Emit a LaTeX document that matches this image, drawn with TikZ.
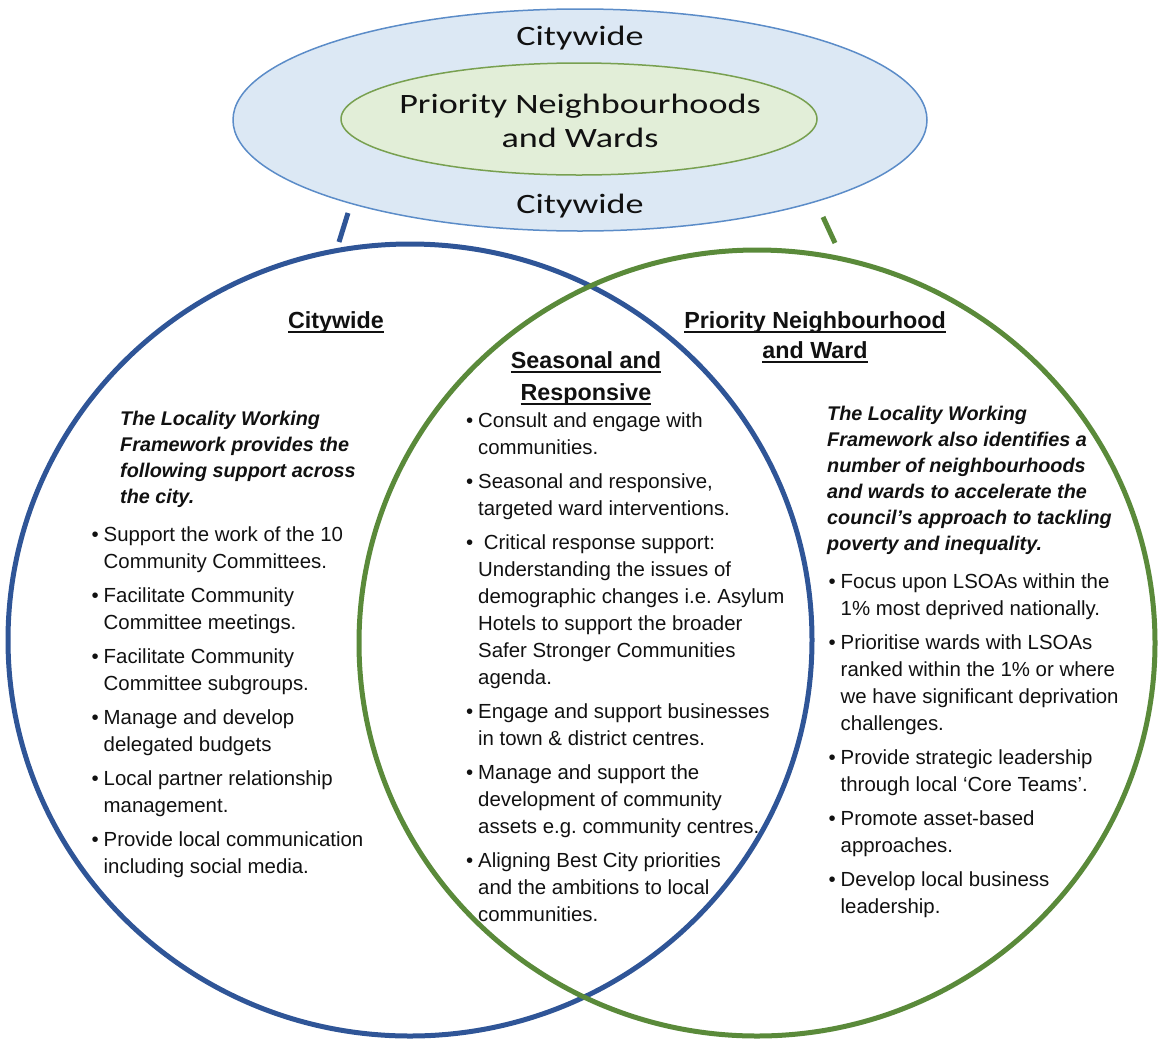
\documentclass[tikz,border=0pt]{standalone}
\usepackage{fontspec}
\setmainfont{Liberation Sans}
\newfontfamily\topfont{Carlito}[FakeStretch=1.29]
\usetikzlibrary{shapes.geometric}
\frenchspacing
\definecolor{cblue}{HTML}{2F5597}
\definecolor{cgreen}{HTML}{5A8A3A}
\definecolor{ofill}{HTML}{DCE8F4}
\definecolor{oline}{HTML}{5B8CC8}
\definecolor{ifill}{HTML}{E2EED8}
\definecolor{iline}{HTML}{78A050}
\definecolor{ink}{HTML}{111111}
\newbox\ulbox
\newcommand\ulx[1]{\setbox\ulbox\hbox{#1}\rlap{\rule[-4.5pt]{\wd\ulbox}{1.4pt}}\box\ulbox}
\newcommand\bl[1]{\hbox{\makebox[12pt][l]{\textbullet}#1}}
\newcommand\cl[1]{\hbox{\hspace*{12pt}#1}}
\newcommand\li[1]{\hbox{#1}}
\newcommand\bgap{\vskip7pt}
\newcommand\chead[2]{\vtop{\baselineskip=#1\halign{\hfil##\hfil\cr #2}}}
\begin{document}
\begin{tikzpicture}[x=1pt,y=-1pt,
  body/.style={inner sep=0pt, anchor=base west, text=ink, font=\fontsize{20.4}{27}\selectfont},
  ital/.style={inner sep=0pt, anchor=base west, text=ink, font=\fontsize{19.8}{26}\selectfont\bfseries\itshape},
  head/.style={inner sep=0pt, anchor=base, text=ink, font=\fontsize{23.3}{30}\selectfont\bfseries},
  toptext/.style={inner sep=0pt, anchor=base, text=ink, font=\topfont\fontsize{28}{34}\selectfont},
  ring/.style={ellipse, line width=5pt, inner sep=0pt},
  tick/.style={line width=5pt}]
\useasboundingbox (0,0) rectangle (1161,1039);
% top ellipses
\node[ellipse, draw=oline, line width=1.5pt, fill=ofill, minimum width=694pt, minimum height=222pt, inner sep=0pt] (outer) at (580,120) {};
\node[ellipse, draw=iline, line width=1.5pt, fill=ifill, minimum width=476pt, minimum height=112pt, inner sep=0pt] (inner) at (579,119) {};
\node[toptext] (cwtop) at (580,45) {Citywide};
\node[toptext] (pnw) at (580,113) {\chead{34pt}{Priority Neighbourhoods\cr and Wards\cr}};
\node[toptext] (cwbot) at (580,213) {Citywide};
% ticks
\coordinate (bt1) at (348,213);
\coordinate (bt2) at (339,242);
\coordinate (gt1) at (823,217);
\coordinate (gt2) at (835,243);
\draw[tick, cblue] (bt1) -- (bt2);
\draw[tick, cgreen] (gt1) -- (gt2);
% circles
\node[ring, draw=cblue, minimum width=804pt, minimum height=792pt] (bc) at (410,640) {};
\node[ring, draw=cgreen, minimum width=796pt, minimum height=786pt] (gc) at (757,643) {};
% headings
\node[head] (hl) at (336,328) {\ulx{Citywide}};
\node[head] (hm) at (586,368) {\chead{32pt}{\ulx{Seasonal and}\cr\ulx{Responsive}\cr}};
\node[head] (hr) at (815,328) {\chead{30pt}{\ulx{Priority Neighbourhood}\cr\ulx{and Ward}\cr}};
% italic intros
\node[ital] (il) at (120,425) {\vtop{\baselineskip=26pt
  \li{The Locality Working}\li{Framework provides the}\li{following support across}\li{the city.}}};
\node[ital] (ir) at (827,420) {\vtop{\baselineskip=26pt
  \li{The Locality Working}\li{Framework also identifies a}\li{number of neighbourhoods}
  \li{and wards to accelerate the}\li{council’s approach to tackling}\li{poverty and inequality.}}};
% bullet lists
\node[body] (bll) at (91.5,541) {\vtop{\baselineskip=27pt
  \bl{Support the work of the 10}\cl{Community Committees.}\bgap
  \bl{Facilitate Community}\cl{Committee meetings.}\bgap
  \bl{Facilitate Community}\cl{Committee subgroups.}\bgap
  \bl{Manage and develop}\cl{delegated budgets}\bgap
  \bl{Local partner relationship}\cl{management.}\bgap
  \bl{Provide local communication}\cl{including social media.}}};
\node[body] (blm) at (466,427) {\vtop{\baselineskip=27pt
  \bl{Consult and engage with}\cl{communities.}\bgap
  \bl{Seasonal and responsive,}\cl{targeted ward interventions.}\bgap
  \bl{\ Critical response support:}\cl{Understanding the issues of}\cl{demographic changes i.e. Asylum}
  \cl{Hotels to support the broader}\cl{Safer Stronger Communities}\cl{agenda.}\bgap
  \bl{Engage and support businesses}\cl{in town \& district centres.}\bgap
  \bl{Manage and support the}\cl{development of community}\cl{assets e.g. community centres.}\bgap
  \bl{Aligning Best City priorities}\cl{and the ambitions to local}\cl{communities.}}};
\node[body] (blr) at (828.5,588) {\vtop{\baselineskip=27pt
  \bl{Focus upon LSOAs within the}\cl{1\% most deprived nationally.}\bgap
  \bl{Prioritise wards with LSOAs}\cl{ranked within the 1\% or where}\cl{we have significant deprivation}\cl{challenges.}\bgap
  \bl{Provide strategic leadership}\cl{through local ‘Core Teams’.}\bgap
  \bl{Promote asset-based}\cl{approaches.}\bgap
  \bl{Develop local business}\cl{leadership.}}};
\end{tikzpicture}
\end{document}
